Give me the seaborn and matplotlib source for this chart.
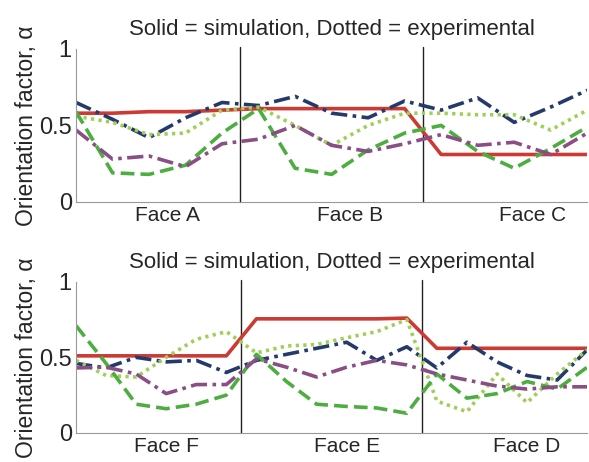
import numpy as np
import pandas as pd
import matplotlib
matplotlib.use("Agg")
import matplotlib.pyplot as plt
import seaborn as sns

# ---------------- data ----------------
top_faces = ["Face A", "Face B", "Face C"]
bot_faces = ["Face F", "Face E", "Face D"]

top_x = list(range(15))
top_sim = [0.58, 0.58, 0.59, 0.59, 0.60, 0.61, 0.61, 0.61, 0.61, 0.61, 0.31, 0.31, 0.31, 0.31, 0.31]
top_blue = [0.65, 0.54, 0.42, 0.55, 0.65, 0.63, 0.69, 0.58, 0.55, 0.66, 0.60, 0.68, 0.52, 0.62, 0.73]
top_dotted = [0.56, 0.52, 0.44, 0.45, 0.60, 0.62, 0.50, 0.37, 0.50, 0.58, 0.58, 0.57, 0.57, 0.47, 0.60]
top_dashed = [0.59, 0.19, 0.18, 0.24, 0.45, 0.61, 0.22, 0.18, 0.34, 0.45, 0.50, 0.33, 0.22, 0.35, 0.49]
top_purple = [0.47, 0.28, 0.30, 0.23, 0.38, 0.41, 0.50, 0.37, 0.33, 0.38, 0.44, 0.37, 0.39, 0.31, 0.45]

bot_x = list(range(18))
bot_sim = [0.51, 0.51, 0.51, 0.51, 0.51, 0.51, 0.755, 0.755, 0.755, 0.755, 0.755, 0.76,
           0.56, 0.56, 0.56, 0.56, 0.56, 0.56]
bot_blue = [0.46, 0.43, 0.50, 0.47, 0.48, 0.40, 0.48, 0.52, 0.56, 0.60, 0.48, 0.57,
            0.43, 0.60, 0.47, 0.38, 0.35, 0.55]
bot_dotted = [0.48, 0.38, 0.37, 0.50, 0.62, 0.67, 0.53, 0.575, 0.585, 0.63, 0.67, 0.75,
              0.21, 0.14, 0.39, 0.20, 0.39, 0.55]
bot_dashed = [0.71, 0.46, 0.19, 0.16, 0.19, 0.25, 0.52, 0.34, 0.19, 0.175, 0.165, 0.13,
              0.39, 0.23, 0.26, 0.34, 0.29, 0.435]
bot_purple = [0.43, 0.435, 0.39, 0.26, 0.32, 0.32, 0.49, 0.435, 0.37, 0.435, 0.48, 0.45,
              0.39, 0.35, 0.31, 0.29, 0.305, 0.305]

top_ticks = [2.5, 7.5, 12.5]
top_dividers = [4.5, 9.5]
bot_ticks = [3, 9, 15]
bot_dividers = [5.5, 11.5]

title_text = "Solid = simulation, Dotted = experimental"
ylabel_text = "Orientation factor, \u03b1"

# ---------------- style ----------------
sns.set_theme(style="white")
plt.rcParams["font.family"] = ["Liberation Sans", "DejaVu Sans"]

C_RED = "#cc3a34"
C_BLUE = "#233a6b"
C_LIGHT = "#9fcf55"
C_GREEN = "#4cae3f"
C_PURPLE = "#8a4e86"

styles = [
    ("sim", C_RED, (None, None)),
    ("blue", C_BLUE, (4.5, 1.5, 1, 1.5)),
    ("dotted", C_LIGHT, (0.9, 1.2)),
    ("dashed", C_GREEN, (3.8, 1.7)),
    ("purple", C_PURPLE, (4.5, 1.5, 1, 1.5)),
]

fig = plt.figure(figsize=(5.89, 4.62), dpi=100)
ax_top = fig.add_axes([0.129, 0.563, 0.868, 0.331])
ax_bot = fig.add_axes([0.129, 0.063, 0.868, 0.327])


def draw(ax, x, series, ticks, faces, dividers):
    df = pd.DataFrame({"x": x})
    for (name, color, dash), vals in zip(styles, series):
        df[name] = vals
    for (name, color, dash) in styles:
        kw = {}
        if dash[0] is not None:
            kw["dashes"] = dash
        sns.lineplot(data=df, x="x", y=name, ax=ax, color=color, linewidth=2.6,
                     solid_capstyle="butt", dash_capstyle="butt", **kw)
    for d in dividers:
        ax.axvline(d, ymin=0, ymax=1.01, color="#222222", linewidth=1.0, zorder=0,
                   clip_on=False)
    ax.set_xlim(x[0], x[-1])
    ax.set_ylim(0, 1)
    ax.set_xticks(ticks)
    ax.set_xticklabels(faces, fontsize=15)
    ax.set_yticks([0, 0.5, 1])
    ax.set_yticklabels(["0", "0.5", "1"], fontsize=17)
    ax.set_xlabel("")
    ax.set_ylabel(ylabel_text, fontsize=16.5, labelpad=1)
    ax.set_title(title_text, fontsize=16, pad=10)
    for s in ["top", "right"]:
        ax.spines[s].set_visible(False)
    for s in ["left", "bottom"]:
        ax.spines[s].set_color("#999999")
        ax.spines[s].set_linewidth(0.8)
    ax.tick_params(axis="both", direction="in", length=3, color="#999999", pad=3)
    ax.tick_params(axis="x", pad=3)
    ax.set_facecolor("white")


draw(ax_top, top_x, [top_sim, top_blue, top_dotted, top_dashed, top_purple],
     top_ticks, top_faces, top_dividers)
draw(ax_bot, bot_x, [bot_sim, bot_blue, bot_dotted, bot_dashed, bot_purple],
     bot_ticks, bot_faces, bot_dividers)

fig.savefig("out.png", dpi=100, facecolor="white")
